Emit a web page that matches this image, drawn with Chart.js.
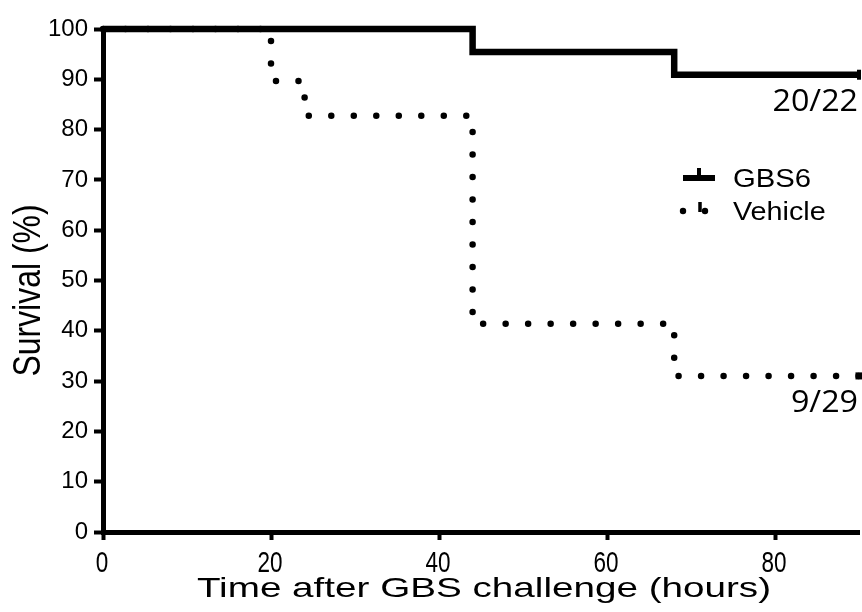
<!DOCTYPE html>
<html>
<head>
<meta charset="utf-8">
<script src="https://cdn.jsdelivr.net/npm/chart.js@4/dist/chart.umd.min.js"></script>
<style>
  html, body { margin: 0; padding: 0; background: #fff; overflow: hidden; }
  canvas { display: block; }
</style>
</head>
<body>
<canvas id="km" width="862" height="612"></canvas>
<script>
// Kaplan-Meier curves
const gbs6Times = [0, 44, 68, 90];
const gbs6Survival = [100, 95.45, 90.91, 90.91];
const vehicleTimes = [0, 20, 24, 44, 68, 90];
const vehicleSurvival = [100, 89.66, 82.76, 41.38, 31.03, 31.03];
const endLabels = ['20/22', '9/29'];
const xTicks = [0, 20, 40, 60, 80];
const xTitle = 'Time after GBS challenge (hours)';
const yTitle = 'Survival (%)';

const SANS = '"Liberation Sans", Arial, sans-serif';
const TICK_FONT = { family: SANS, size: 24 };

const toPoints = (xs, ys) => xs.map((x, i) => ({ x, y: ys[i] }));
const lastOnly = n => ctx => (ctx.dataIndex === n - 1 ? 5 : 0);

// the figure's lettering is squeezed/stretched sideways, so draw it with a scale
function stretchedText(ctx, text, x, y, font, sx, align, rot = 0) {
    ctx.save();
    ctx.translate(x, y);
    ctx.rotate(rot);
    ctx.scale(sx, 1);
    ctx.font = font;
    ctx.textAlign = align;
    ctx.textBaseline = 'alphabetic';
    ctx.fillText(text, 0, 0);
    ctx.restore();
}

// axis titles, x tick labels, legend and n/N labels
const extras = {
    id: 'extras',
    afterDatasetsDraw(chart) {
        const { ctx, chartArea: ca, scales: { x, y } } = chart;
        ctx.save();
        ctx.fillStyle = '#000';
        ctx.strokeStyle = '#000';

        xTicks.forEach(v => stretchedText(ctx, String(v), x.getPixelForValue(v) - 1, ca.bottom + 40, '30px ' + SANS, 0.75, 'center'));
        stretchedText(ctx, xTitle, (ca.left + ca.right) / 2 + 3, ca.bottom + 65, '28px ' + SANS, 1.38, 'center');
        stretchedText(ctx, yTitle, 40, (ca.top + ca.bottom) / 2 + 10, '38px ' + SANS, 0.84, 'center', -Math.PI / 2);

        // n/N under the end of each curve
        const ends = [gbs6Survival[gbs6Survival.length - 1], vehicleSurvival[vehicleSurvival.length - 1]];
        ends.forEach((v, i) => stretchedText(ctx, endLabels[i], x.right - 1, y.getPixelForValue(v) + 36, '31px "Open Sans", "DejaVu Sans"', 1.04, 'right'));

        // legend
        const lx = 683, ly1 = 178, ly2 = 211;
        ctx.lineWidth = 6;
        ctx.beginPath(); ctx.moveTo(lx, ly1); ctx.lineTo(lx + 32, ly1); ctx.stroke();
        ctx.lineWidth = 4;
        ctx.beginPath(); ctx.moveTo(lx + 16, ly1); ctx.lineTo(lx + 16, ly1 - 10); ctx.stroke();
        [lx, lx + 22].forEach(cx => { ctx.beginPath(); ctx.arc(cx, ly2, 3.2, 0, Math.PI * 2); ctx.fill(); });
        ctx.lineWidth = 3.5;
        ctx.beginPath(); ctx.moveTo(lx + 17, ly2 + 1); ctx.lineTo(lx + 17, ly2 - 9); ctx.stroke();

        stretchedText(ctx, 'GBS6', lx + 50, ly1 + 9, '25px ' + SANS, 1.17, 'left');
        stretchedText(ctx, 'Vehicle', lx + 50, ly2 + 9, '25px ' + SANS, 1.15, 'left');
        ctx.restore();
    }
};

new Chart(document.getElementById('km'), {
    type: 'line',
    data: {
        datasets: [
            {
                label: 'GBS6', data: toPoints(gbs6Times, gbs6Survival), stepped: 'before', clip: 8, order: 0,
                borderColor: '#000', borderWidth: 6.5, borderCapStyle: 'butt', fill: false,
                pointRadius: lastOnly(gbs6Times.length), pointStyle: 'line', rotation: 90,
                pointBorderColor: '#000', pointBorderWidth: 4
            },
            {
                label: 'Vehicle', data: toPoints(vehicleTimes, vehicleSurvival), stepped: 'before', clip: 8, order: 1,
                borderColor: '#000', borderWidth: 6.5, borderCapStyle: 'round', borderDash: [0, 22.5], fill: false,
                pointRadius: lastOnly(vehicleTimes.length), pointStyle: 'rect',
                pointBackgroundColor: '#000', pointBorderColor: '#000', pointBorderWidth: 0
            }
        ]
    },
    options: {
        responsive: false,
        animation: false,
        // end-of-curve marks would otherwise push the plot 7px in from the right edge
        layout: { autoPadding: false, padding: { top: 29, right: 3, left: 0, bottom: 0 } },
        plugins: { legend: { display: false }, tooltip: { enabled: false } },
        scales: {
            x: {
                type: 'linear', min: 0, max: 90,
                afterFit: s => { s.height = 80; s.paddingLeft = 0; s.paddingRight = 0; },
                afterBuildTicks: s => { s.ticks = xTicks.map(v => ({ value: v })); },
                border: { display: true, width: 5, color: '#000' },
                grid: { drawOnChartArea: false, drawTicks: true, tickLength: 8, tickWidth: 4, tickColor: '#000' },
                ticks: { display: false }
            },
            y: {
                min: 0, max: 100,
                afterFit: s => { s.width = 103; },
                border: { display: true, width: 5, color: '#000' },
                grid: { drawOnChartArea: false, drawTicks: true, tickLength: 9, tickWidth: 4, tickColor: '#000' },
                ticks: { stepSize: 10, color: '#000', font: TICK_FONT, padding: 6 }
            }
        }
    },
    plugins: [extras]
});
</script>
</body>
</html>
